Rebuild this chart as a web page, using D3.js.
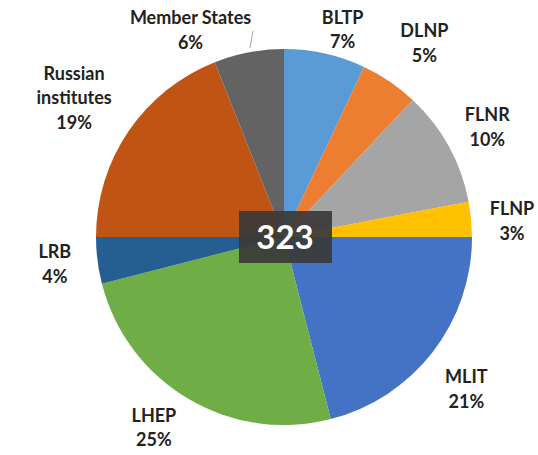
<!DOCTYPE html>
<html>
<head>
<meta charset="utf-8">
<script src="https://cdn.jsdelivr.net/npm/d3@7"></script>
<style>
  body { margin: 0; background: #fff; }
  text { font-family: Lato, "Open Sans", sans-serif; font-weight: bold; }
</style>
</head>
<body>
<svg id="chart" width="538" height="455"></svg>
<script>
var categories = ["BLTP", "DLNP", "FLNR", "FLNP", "MLIT", "LHEP", "LRB", "Russian institutes", "Member States"];
var shares = [7, 5, 10, 3, 21, 25, 4, 19, 6];
var colors = ["#5B9BD5", "#ED7D31", "#A5A5A5", "#FFC000", "#4472C4", "#70AD47", "#255E91", "#BF5414", "#636363"];
var total = 323;

var data = categories.map(function(c, i){ return {name: c, value: shares[i]} });

var svg = d3.select("#chart");
var cx = 284, cy = 237, radius = 188;

var g = svg.append("g").attr("transform", `translate(${cx},${cy})`);

var color = d3.scaleOrdinal().domain(categories).range(colors);

var pie = d3.pie().value(d => d.value).sort(null);
var arc = d3.arc().innerRadius(0).outerRadius(radius);
var labelArc = d3.arc().innerRadius(232).outerRadius(232);

var arcs = pie(data);

g.selectAll("path.slice")
    .data(arcs)
    .enter().append("path")
    .attr("class", "slice")
    .attr("d", arc)
    .attr("fill", d => color(d.data.name));

// small hand nudges so labels sit like the original
var nudge = {
    "BLTP": [8, 19],
    "DLNP": [10, -2],
    "FLNR": [0, 2],
    "FLNP": [-3, 6],
    "MLIT": [-1, 10],
    "LHEP": [-12, -9],
    "LRB": [1, -2],
    "Russian institutes": [-18, -9],
    "Member States": [-50, 21]
};

var lineH = 24.5;

var labels = g.selectAll("text.lbl")
    .data(arcs)
    .enter().append("text")
    .attr("class", "lbl")
    .attr("text-anchor", "middle")
    .attr("fill", "#222")
    .style("font-size", "18px")
    .attr("transform", function(d){
        var c = labelArc.centroid(d),
            n = nudge[d.data.name];
        return `translate(${c[0] + n[0]},${c[1] + n[1]})`;
    });

labels.each(function(d){
    var words = d.data.name === "Russian institutes" ? ["Russian", "institutes"] : [d.data.name];
    var lines = words.concat([d.data.value + "%"]);
    var el = d3.select(this);
    var start = -(lines.length - 1) / 2 * lineH + 6.5;
    lines.forEach(function(l, i){
        el.append("tspan")
            .attr("x", 0)
            .attr("y", start + i * lineH)
            .text(l);
    });
});

// leader for Member States
g.append("line")
    .attr("x1", -31).attr("y1", -206)
    .attr("x2", -34).attr("y2", -189)
    .attr("stroke", "#a6a6a6")
    .attr("stroke-width", 1);

// total box
var box = g.append("g");
box.append("rect")
    .attr("x", -45).attr("y", -26)
    .attr("width", 93).attr("height", 52)
    .attr("fill", "#3a3a3a")
    .attr("fill-opacity", 0.92);
box.append("text")
    .attr("text-anchor", "middle")
    .attr("x", 1)
    .attr("y", 12)
    .attr("fill", "#fff")
    .style("font-size", "33px")
    .text(total);
</script>
</body>
</html>
